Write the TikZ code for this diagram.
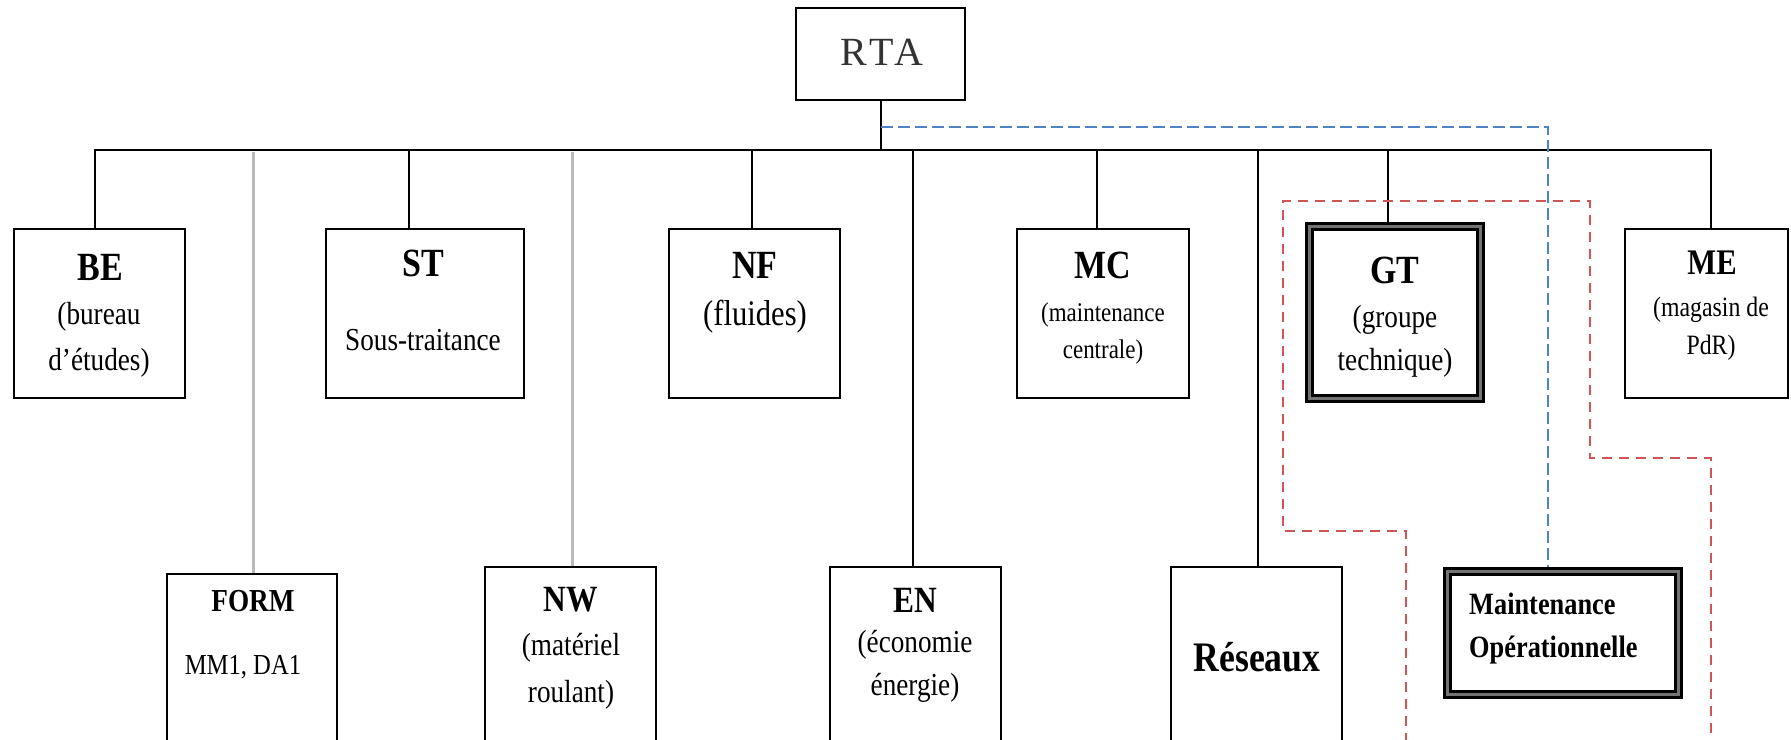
\documentclass[tikz,border=0pt]{standalone}
\usepackage{fontspec}
\setmainfont{Liberation Serif}[FakeStretch=0.85]
\newfontfamily\topfont{Liberation Serif}[LetterSpace=10]
\definecolor{linkred}{RGB}{205,85,85}
\definecolor{linkblue}{RGB}{80,130,200}
\definecolor{vacant}{RGB}{185,185,185}
\newcommand{\fs}[2]{\fontsize{#1}{#2}\selectfont}
\begin{document}
\begin{tikzpicture}[x=1pt,y=-1pt,
  unit/.style={draw, line width=2.4pt, inner sep=0pt, rectangle},
  heavy/.style={draw, line width=7pt, inner sep=0pt, rectangle},
  title/.style={inner sep=0pt, font=\bfseries\fs{40}{46}},
  sub/.style={inner sep=0pt, align=center},
  link/.style={line width=2pt},
  vacantlink/.style={line width=3pt, draw=vacant},
  redzone/.style={line width=2pt, draw=linkred, dash pattern=on 10pt off 7pt},
  bluelink/.style={line width=2pt, draw=linkblue, dash pattern=on 12pt off 5pt}]
\useasboundingbox (0,0) rectangle (1791,739);
\clip (0,0) rectangle (1791,739);

% top unit
\node[unit, minimum width=169pt, minimum height=92pt] (RTA) at (880.5,54) {};
\node[inner sep=0pt, text=black!80, font=\topfont\fs{40}{46}] (RTAt) at (882,52) {RTA};

% first row of units
\node[unit, minimum width=171pt, minimum height=169pt] (BE) at (99.5,313.5) {};
\node[unit, minimum width=198pt, minimum height=169pt] (ST) at (425,313.5) {};
\node[unit, minimum width=171pt, minimum height=169pt] (NF) at (754.5,313.5) {};
\node[unit, minimum width=172pt, minimum height=169pt] (MC) at (1103,313.5) {};
\node[heavy, minimum width=173pt, minimum height=174pt] (GT) at (1395,312.5) {};
\node[unit, minimum width=163pt, minimum height=169pt] (ME) at (1706.5,313.5) {};

% second row of units (running past the lower edge)
\node[unit, minimum width=170pt, minimum height=200pt] (FORM) at (252,674) {};
\node[unit, minimum width=171pt, minimum height=200pt] (NW) at (570.5,667) {};
\node[unit, minimum width=171pt, minimum height=200pt] (EN) at (915.5,667) {};
\node[unit, minimum width=171pt, minimum height=200pt] (RES) at (1256.5,667) {};
\node[heavy, minimum width=233pt, minimum height=125pt] (MO) at (1563,633) {};

% inner rules of the framed units
\foreach \n in {GT,MO}{
  \draw[line width=2.5pt, draw=black!55] ([shift={(4.6,4.6)}]\n.north west) rectangle ([shift={(-4.6,-4.6)}]\n.south east);
  \draw[line width=2pt] ([shift={(7.6,7.6)}]\n.north west) rectangle ([shift={(-7.6,-7.6)}]\n.south east);
}

% labels
\node[title] (BEt) at (100,267) {BE};
\node[sub, font=\fs{32}{46}] (BEs) at (99,340) {(bureau\\d’études)};
\node[title] (STt) at (423,263) {ST};
\node[sub, font=\fs{32}{38}] (STs) at (423,340) {Sous-traitance};
\node[title] (NFt) at (755,265) {NF};
\node[sub, font=\fs{36}{40}] (NFs) at (755,317) {(fluides)};
\node[title] (MCt) at (1103,265) {MC};
\node[sub, font=\fs{27}{37}] (MCs) at (1103,333.5) {(maintenance\\centrale)};
\node[title] (GTt) at (1395,270) {GT};
\node[sub, font=\fs{32}{43}] (GTs) at (1395,341.5) {(groupe\\technique)};
\node[title, font=\bfseries\fs{36}{40}] (MEt) at (1712,263) {ME};
\node[sub, font=\fs{28}{38}] (MEs) at (1711,329) {(magasin de\\PdR)};
\node[title, font=\bfseries\fs{32}{36}] (FORMt) at (253,601) {FORM};
\node[sub, font=\fs{29}{34}] (FORMs) at (243,667) {MM1, DA1};
\node[title, font=\bfseries\fs{37}{40}] (NWt) at (571,600) {NW};
\node[sub, font=\fs{32}{47}] (NWs) at (571,671.5) {(matériel\\roulant)};
\node[title, font=\bfseries\fs{37}{40}] (ENt) at (915,600) {EN};
\node[sub, font=\fs{32}{43}] (ENs) at (915,666.5) {(économie\\énergie)};
\node[title, font=\bfseries\fs{42}{46}] (RESt) at (1257,657) {Réseaux};
\node[inner sep=0pt, anchor=west, align=left, font=\bfseries\fs{31}{43}] (MOt) at (1469,628.5) {Maintenance\\Opérationnelle};

% hierarchy lines
\coordinate (bus) at (0,150);
\draw[link] (RTA.south) -- (RTA.south |- bus);
\draw[link] ([xshift=-4.5pt]BE.north) -- ([xshift=-4.5pt]BE.north |- bus) -- ([xshift=4.5pt]ME.north |- bus) -- ([xshift=4.5pt]ME.north);
\draw[link] ([xshift=-16pt]ST.north) -- ([xshift=-16pt]ST.north |- bus);
\draw[link] ([xshift=-2.5pt]NF.north) -- ([xshift=-2.5pt]NF.north |- bus);
\draw[link] ([xshift=-6pt]MC.north) -- ([xshift=-6pt]MC.north |- bus);
\draw[link] ([xshift=-7pt]GT.north) -- ([xshift=-7pt]GT.north |- bus);
\draw[link] ([xshift=-2.5pt]EN.north) -- ([xshift=-2.5pt]EN.north |- bus);
\draw[link] ([xshift=1.5pt]RES.north) -- ([xshift=1.5pt]RES.north |- bus);
\draw[vacantlink] ([xshift=1pt]FORM.north) -- ([xshift=1pt,yshift=-2pt]FORM.north |- bus);
\draw[vacantlink] ([xshift=1.5pt]NW.north) -- ([xshift=1.5pt,yshift=-2pt]NW.north |- bus);

% functional link to operational maintenance
\coordinate (bluey) at (0,127);
\draw[bluelink] (RTA.south |- bluey) -- ([xshift=-15pt]MO.north |- bluey) -- ([xshift=-15pt]MO.north);

% technical group perimeter
\draw[redzone] (1406,760) -- (1406,531) -- (1283,531) -- (1283,201) -- (1590,201)
  -- (1590,458) -- (1711,458) -- (1711,760);
\end{tikzpicture}
\end{document}
